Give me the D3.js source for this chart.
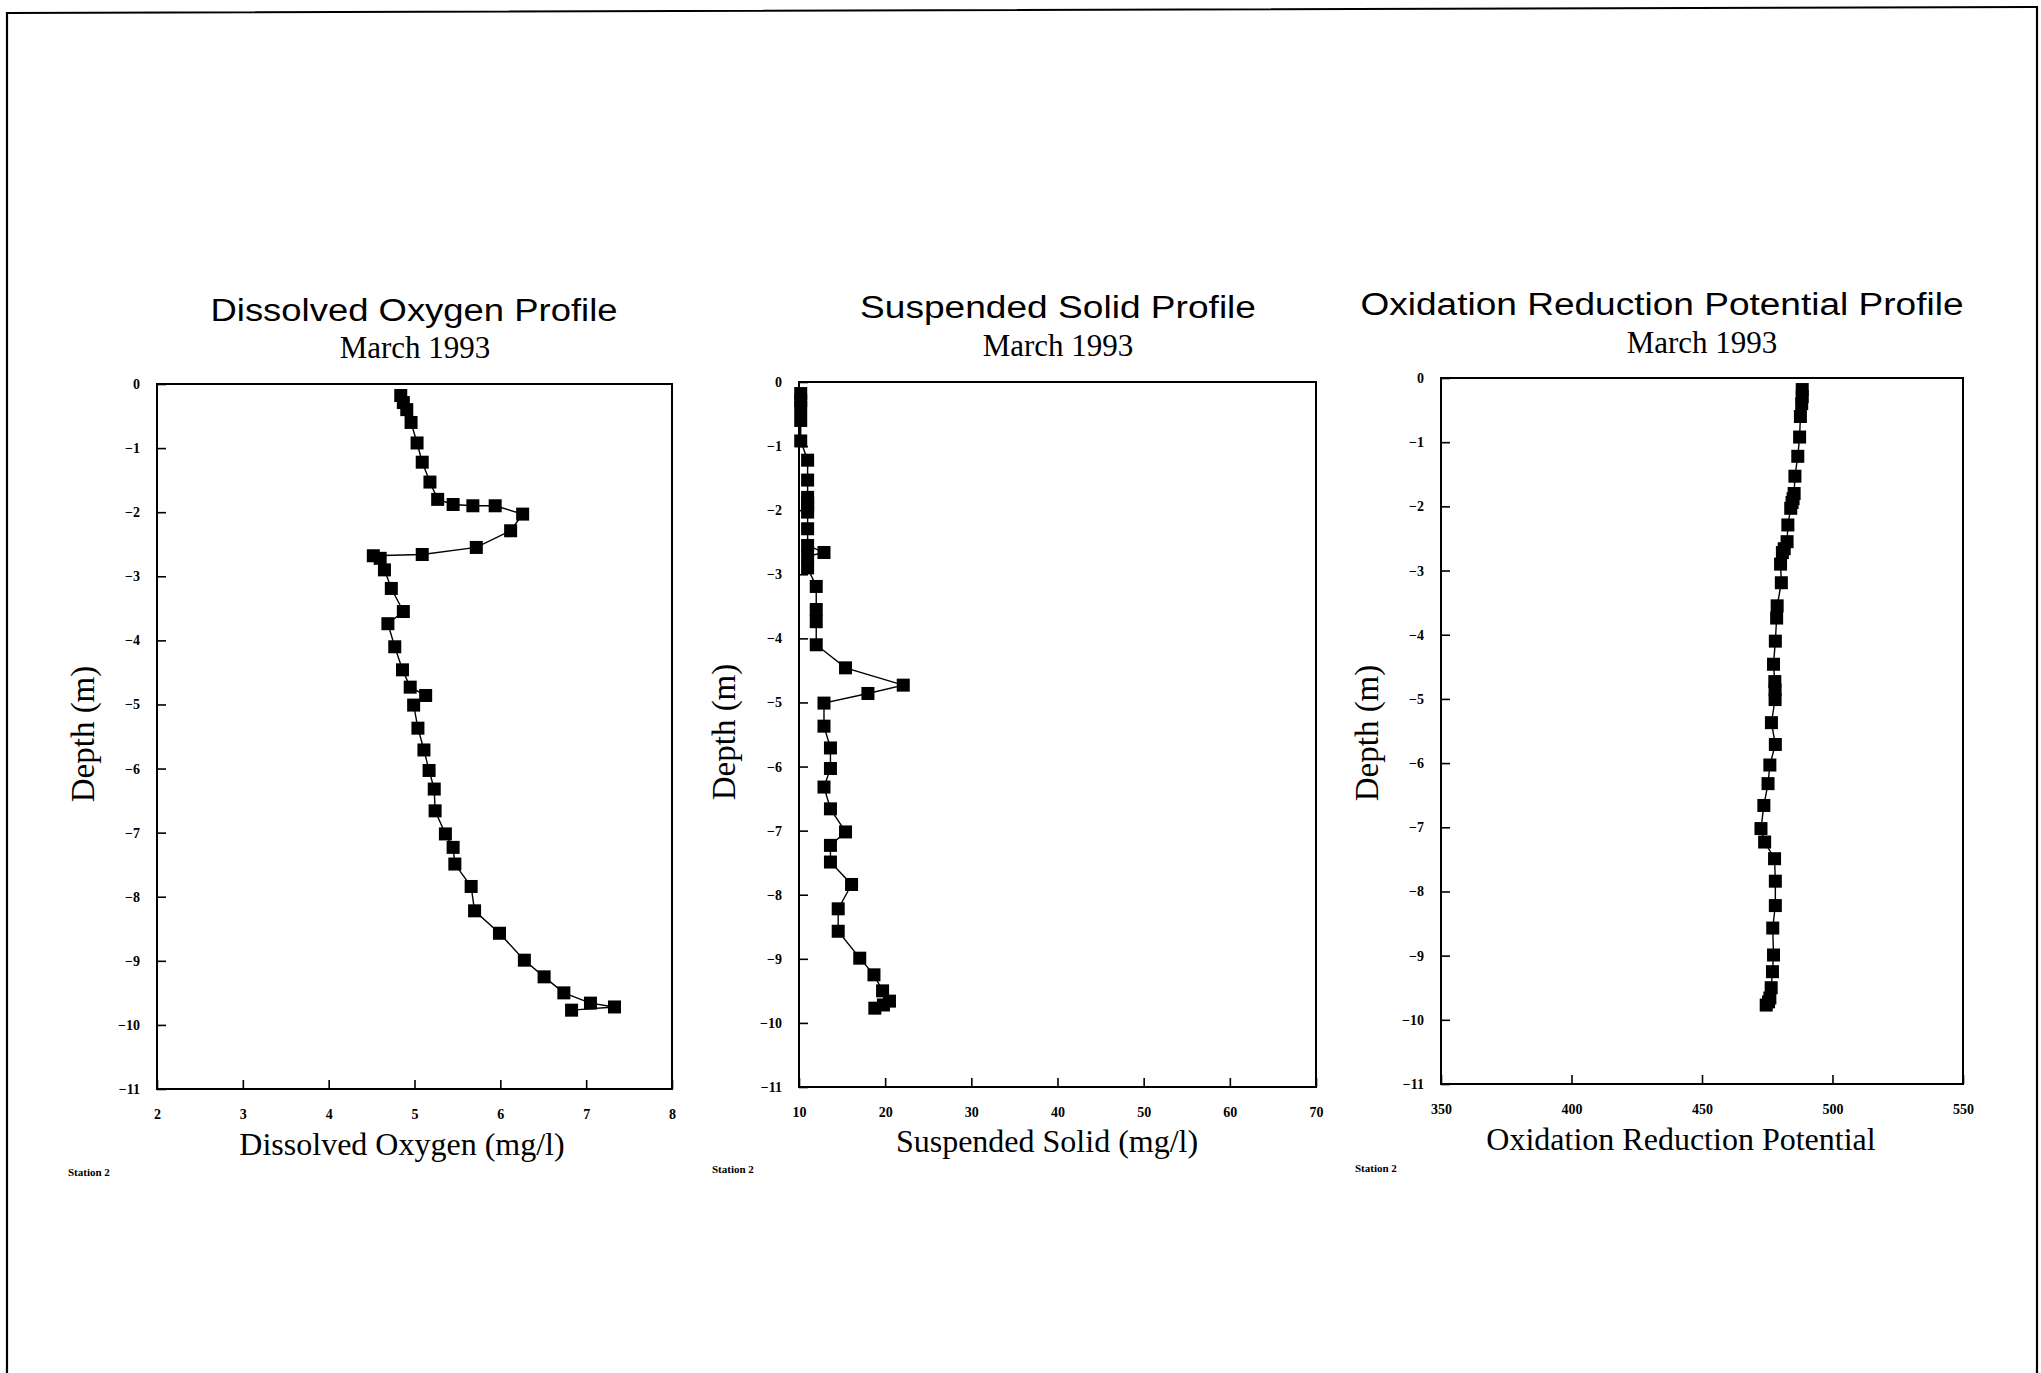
<!DOCTYPE html>
<html><head><meta charset="utf-8">
<script src="https://cdn.jsdelivr.net/npm/d3@7/dist/d3.min.js"></script>
<style>
html,body{margin:0;padding:0;background:#fff;}
svg{display:block;}
.tick text{font-family:"Liberation Serif","DejaVu Serif",serif;font-weight:bold;font-size:14px;fill:#000;}
.domain{display:none;}
.tick line{stroke:#000;stroke-width:1.6;}
</style>
</head><body>
<svg id="chart" width="2041" height="1373"></svg>
<script>
// ---------- DATA ----------
const doDepth = [-0.18,-0.29,-0.40,-0.60,-0.92,-1.22,-1.53,-1.80,-1.88,-1.90,-1.90,-2.03,-2.29,-2.55,-2.66,-2.68,-2.72,-2.90,-3.19,-3.55,-3.74,-4.10,-4.46,-4.73,-4.86,-5.01,-5.37,-5.71,-6.03,-6.32,-6.66,-7.02,-7.23,-7.49,-7.84,-8.22,-8.57,-8.99,-9.25,-9.50,-9.66,-9.72,-9.77];
const doValue = [4.84,4.87,4.91,4.96,5.03,5.09,5.18,5.27,5.45,5.68,5.94,6.26,6.12,5.72,5.09,4.52,4.60,4.65,4.73,4.87,4.69,4.77,4.86,4.95,5.13,4.99,5.04,5.11,5.17,5.23,5.24,5.36,5.45,5.47,5.66,5.70,5.99,6.28,6.51,6.74,7.05,7.33,6.83];

const ssDepth = [-0.18,-0.29,-0.40,-0.60,-0.92,-1.22,-1.53,-1.80,-1.88,-1.94,-2.03,-2.29,-2.55,-2.66,-2.72,-2.90,-3.19,-3.55,-3.74,-4.10,-4.46,-4.73,-4.86,-5.01,-5.37,-5.71,-6.03,-6.32,-6.66,-7.02,-7.23,-7.49,-7.84,-8.22,-8.57,-8.99,-9.25,-9.50,-9.66,-9.72,-9.77];
const ssValue = [10.2,10.2,10.2,10.2,10.2,11.0,11.0,11.0,11.0,11.0,11.0,11.0,11.0,12.9,11.0,11.0,12.0,12.0,12.0,12.0,15.4,22.1,18.0,12.9,12.9,13.65,13.65,12.9,13.65,15.4,13.65,13.65,16.1,14.55,14.55,17.05,18.7,19.7,20.5,19.8,18.8];

const orpDepth = [-0.18,-0.29,-0.40,-0.60,-0.92,-1.22,-1.53,-1.80,-1.88,-1.94,-2.03,-2.29,-2.55,-2.66,-2.72,-2.90,-3.19,-3.55,-3.74,-4.10,-4.46,-4.73,-4.86,-5.01,-5.37,-5.71,-6.03,-6.32,-6.66,-7.02,-7.23,-7.49,-7.84,-8.22,-8.57,-8.99,-9.25,-9.50,-9.66,-9.72,-9.77];
const orpValue = [488.4,488.4,488.2,487.7,487.4,486.7,485.6,485.3,484.9,484.5,484.0,482.9,482.6,481.5,480.8,480.1,480.4,478.8,478.6,478.1,477.4,477.9,478.0,478.0,476.6,478.1,476.0,475.3,473.7,472.6,474.0,477.8,478.1,478.1,477.1,477.4,477.0,476.5,476.0,475.5,474.6];

const depthTicks = [0,-1,-2,-3,-4,-5,-6,-7,-8,-9,-10,-11];
const doTicks = [2,3,4,5,6,7,8];
const ssTicks = [10,20,30,40,50,60,70];
const orpTicks = [350,400,450,500,550];

const titles = ["Dissolved Oxygen Profile","Suspended Solid Profile","Oxidation Reduction Potential Profile"];
const subtitle = "March 1993";
const xLabels = ["Dissolved Oxygen (mg/l)","Suspended Solid (mg/l)","Oxidation Reduction Potential"];
const yLabel = "Depth (m)";
const stationLabel = "Station 2";

// ---------- LAYOUT ----------
const panels = [
  {depth:doDepth, value:doValue, ticks:doTicks, dom:[2,8], x0:157, x1:672, y0:384, y1:1089,
   title:titles[0], tx:414, ty:321, tw:407, sx:415, sy:358, xl:xLabels[0], xlx:402, xly:1155, ylx:94, yly:734, stx:68, sty:1176, tickY:20},
  {depth:ssDepth, value:ssValue, ticks:ssTicks, dom:[10,70], x0:799, x1:1316, y0:382, y1:1087,
   title:titles[1], tx:1058, ty:318, tw:396, sx:1058, sy:356, xl:xLabels[1], xlx:1047, xly:1152, ylx:735, yly:732, stx:712, sty:1173, tickY:20},
  {depth:orpDepth, value:orpValue, ticks:orpTicks, dom:[350,550], x0:1441, x1:1963, y0:378, y1:1084,
   title:titles[2], tx:1662, ty:315, tw:603, sx:1702, sy:353, xl:xLabels[2], xlx:1681, xly:1150, ylx:1378, yly:733, stx:1355, sty:1172, tickY:20}
];

const svg = d3.select("#chart");
svg.append("rect").attr("width",2041).attr("height",1373).attr("fill","#fff");

// page frame (scanned border)
svg.append("path").attr("d","M7,1373 L7,13 L2037,7 L2037,1373")
  .attr("fill","none").attr("stroke","#000").attr("stroke-width",2.2);

const serif = "'Liberation Serif','Times New Roman',serif";
const sans = "'Liberation Sans',Arial,Helvetica,sans-serif";

panels.forEach(p => {
  const x = d3.scaleLinear().domain(p.dom).range([p.x0,p.x1]);
  const y = d3.scaleLinear().domain([0,-11]).range([p.y0,p.y1]);
  const g = svg.append("g");

  // y axis, inward ticks
  g.append("g").attr("transform",`translate(${p.x0},0)`)
    .call(d3.axisLeft(y).tickValues(depthTicks).tickSize(-9).tickPadding(17)
      .tickFormat(d => d===0 ? "0" : "\u2212"+Math.abs(d)));
  // x axis
  g.append("g").attr("transform",`translate(0,${p.y1})`)
    .call(d3.axisBottom(x).tickValues(p.ticks).tickSize(-9).tickPadding(p.tickY).tickFormat(d3.format("d")));

  // frame
  g.append("rect").attr("x",p.x0).attr("y",p.y0).attr("width",p.x1-p.x0).attr("height",p.y1-p.y0)
    .attr("fill","none").attr("stroke","#000").attr("stroke-width",2);

  const pts = p.depth.map((d,i)=>({d, v:p.value[i]}));
  g.append("path").datum(pts)
    .attr("d", d3.line().x(d=>x(d.v)).y(d=>y(d.d)))
    .attr("fill","none").attr("stroke","#000").attr("stroke-width",1.4);
  const s = 13;
  g.selectAll("rect.pt").data(pts).enter().append("rect").attr("class","pt")
    .attr("x",d=>x(d.v)-s/2).attr("y",d=>y(d.d)-s/2).attr("width",s).attr("height",s).attr("fill","#000");

  // titles
  svg.append("text").attr("x",p.tx).attr("y",p.ty).attr("text-anchor","middle")
    .attr("font-family",sans).attr("font-size",31).attr("textLength",p.tw).attr("lengthAdjust","spacingAndGlyphs")
    .text(p.title);
  svg.append("text").attr("x",p.sx).attr("y",p.sy).attr("text-anchor","middle")
    .attr("font-family",serif).attr("font-size",31).text(subtitle);
  svg.append("text").attr("x",p.xlx).attr("y",p.xly).attr("text-anchor","middle")
    .attr("font-family",serif).attr("font-size",32).text(p.xl);
  svg.append("text").attr("transform",`translate(${p.ylx},${p.yly}) rotate(-90)`).attr("text-anchor","middle")
    .attr("font-family",serif).attr("font-size",33).text(yLabel);
  svg.append("text").attr("x",p.stx).attr("y",p.sty)
    .attr("font-family",serif).attr("font-weight","bold").attr("font-size",11).text(stationLabel);
});
</script>
</body></html>
